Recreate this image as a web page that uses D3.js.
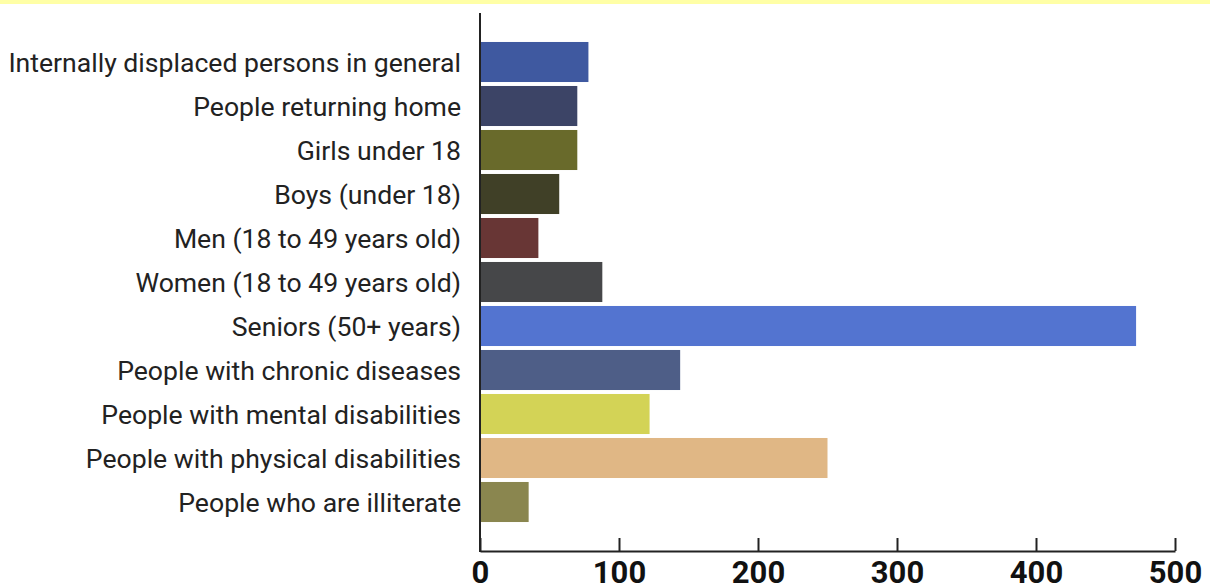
<!DOCTYPE html>
<html>
<head>
<meta charset="utf-8">
<script src="https://cdn.jsdelivr.net/npm/d3@7"></script>
<style>
  html, body { margin: 0; padding: 0; background: #fff; }
  svg { display: block; }
</style>
</head>
<body>
<svg id="chart" width="1210" height="586"></svg>
<script>
const categories = [
  "Internally displaced persons in general",
  "People returning home",
  "Girls under 18",
  "Boys (under 18)",
  "Men (18 to 49 years old)",
  "Women (18 to 49 years old)",
  "Seniors (50+ years)",
  "People with chronic diseases",
  "People with mental disabilities",
  "People with physical disabilities",
  "People who are illiterate"
];
const values = [78, 70, 70, 57, 42, 88, 472, 144, 122, 250, 35];
const colors = ["#3f59a0", "#3c4466", "#696a2b", "#404027", "#683635", "#464749",
                "#5374d0", "#4e5e87", "#d3d356", "#e0b785", "#8a864f"];
const xTicks = [0, 100, 200, 300, 400, 500];

const svg = d3.select("#chart");
const W = 1210, H = 586;

// top yellow band
svg.append("rect").attr("x", 0).attr("y", 0).attr("width", W).attr("height", 4)
  .attr("fill", "#ffffa6");

const x = d3.scaleLinear().domain([0, 500]).range([480, 1175]);
const y = d3.scaleBand().domain(categories).range([40, 524])
  .paddingInner(0.09).paddingOuter(0.045);

// bars
svg.append("g").selectAll("rect").data(categories).join("rect")
  .attr("x", x(0))
  .attr("y", d => y(d))
  .attr("width", (d, i) => x(values[i]) - x(0))
  .attr("height", y.bandwidth())
  .attr("fill", (d, i) => colors[i]);

// y axis labels
const yAxis = svg.append("g").attr("transform", `translate(${x(0)},1)`)
  .call(d3.axisLeft(y).tickSize(0).tickPadding(19));
yAxis.select(".domain").remove();
yAxis.selectAll("text")
  .attr("font-family", "Roboto, sans-serif")
  .attr("font-size", 26.6)
  .attr("fill", "#222");

// vertical axis line
svg.append("line")
  .attr("x1", x(0)).attr("x2", x(0))
  .attr("y1", 13).attr("y2", 552)
  .attr("stroke", "#222").attr("stroke-width", 2);

// x axis
const xAxis = svg.append("g").attr("transform", "translate(0,551)")
  .call(d3.axisBottom(x).tickValues(xTicks).tickSizeInner(-13).tickSizeOuter(0).tickPadding(10));
xAxis.select(".domain").attr("stroke", "#222").attr("stroke-width", 2);
xAxis.selectAll(".tick line").attr("stroke", "#222").attr("stroke-width", 2);
xAxis.selectAll("text")
  .attr("font-family", "Roboto, sans-serif")
  .attr("font-weight", "bold")
  .attr("font-size", 31)
  .attr("fill", "#111");
</script>
</body>
</html>
